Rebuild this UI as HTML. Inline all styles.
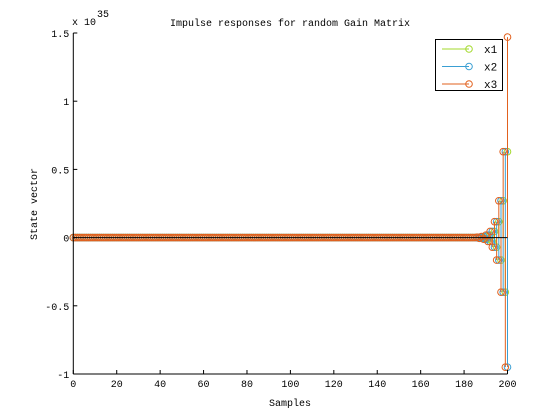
<!DOCTYPE html>
<html><head><meta charset="utf-8"><style>
html,body{margin:0;padding:0;background:#fff}
svg{display:block;font-family:"Liberation Mono",monospace}
</style></head><body>
<svg id="chart" width="560" height="420" viewBox="0 0 560 420" xmlns="http://www.w3.org/2000/svg">
<rect x="0" y="0" width="560" height="420" fill="#fff"/>
<g id="plot"></g>
<g id="axes"></g>
<text x="290" y="26" font-size="10" text-anchor="middle">Impulse responses for random Gain Matrix</text>
<text x="290" y="406" font-size="10" text-anchor="middle">Samples</text>
<text transform="translate(37,204) rotate(-90)" font-size="10" text-anchor="middle">State vector</text>
<text x="72" y="25" font-size="10">x 10</text>
<text x="97" y="17" font-size="10">35</text>
<g id="legend">
<rect x="435.5" y="39.5" width="67" height="51" fill="#fff" stroke="#000" stroke-width="1"/>
</g>
</svg>
<script>
const NS="http://www.w3.org/2000/svg";
const xTicks=[0,20,40,60,80,100,120,140,160,180,200];
const yTicks=[-1,-0.5,0,0.5,1,1.5];
const yTickLabels=["-1","-0.5","0","0.5","1","1.5"];
const seriesNames=["x1","x2","x3"];
const seriesColors=["#a3d92b","#3a9fd3","#e2611e"];
// values in units of 1e35; indices 0..200 (leading samples are zero)
const tailStart=186;
const x3Tail=[0.003,-0.005,0.008,-0.012,0.018,-0.028,0.045,-0.07,0.117,-0.165,0.27,-0.40,0.63,-0.95,1.47];
const x2Tail=[-0.002,0.003,-0.005,0.008,-0.012,0.018,-0.028,0.045,-0.07,0.117,-0.165,0.27,-0.40,0.63,-0.95];
const x1Tail=[0.001,-0.002,0.003,-0.005,0.008,-0.012,0.018,-0.028,0.045,-0.07,0.117,-0.165,0.27,-0.40,0.63];
const nSamples=201;
const L=73.3,R=507.5,T=33,B=374;
function sx(v){return L+(v-0)/(200-0)*(R-L);}
function sy(v){return B-(v-(-1))/(1.5-(-1))*(B-T);}
function el(tag,attrs,parent){const e=document.createElementNS(NS,tag);for(const k in attrs)e.setAttribute(k,attrs[k]);parent.appendChild(e);return e;}
function series(tail){const a=[];for(let i=0;i<nSamples;i++){const j=i-tailStart;a.push(j>=0&&j<tail.length?tail[j]:0);}return a;}
const allSeries=[series(x1Tail),series(x2Tail),series(x3Tail)];
const plot=document.getElementById('plot');
allSeries.forEach((vals,s)=>{
  const g=el('g',{},plot);
  
  
  vals.forEach((v,i)=>{
    const x=sx(i);
    if(Math.abs(sy(v)-sy(0))>0.5){
      const ln=el('line',{x1:x,y1:sy(0),x2:x,y2:sy(v),stroke:seriesColors[s],'stroke-width':1},g);
      
      
    }
    const c=el('circle',{cx:x,cy:sy(v),r:3.3,fill:'none',stroke:seriesColors[s],'stroke-width':1},g);
    
    
  });
});
const base=el('line',{x1:sx(0),x2:sx(200),y1:sy(0),y2:sy(0),stroke:'#000','stroke-width':1},plot);


const axes=document.getElementById('axes');
const xa=el('line',{x1:L,x2:R,y1:B,y2:B,stroke:'#000','stroke-width':1},axes);


const ya=el('line',{x1:L,x2:L,y1:T,y2:B,stroke:'#000','stroke-width':1},axes);


xTicks.forEach(t=>{
  const x=sx(t);
  el('line',{x1:x,x2:x,y1:B,y2:B-4,stroke:'#000'},axes);
  const tx=el('text',{x:x,y:B+13,'font-size':10,'text-anchor':'middle'},axes);
  tx.textContent=t;
  
  
});
yTicks.forEach((t,i)=>{
  const y=sy(t);
  el('line',{x1:L,x2:L+4,y1:y,y2:y,stroke:'#000'},axes);
  const tx=el('text',{x:L-4,y:y+4,'font-size':10,'text-anchor':'end'},axes);
  tx.textContent=yTickLabels[i];
  
  
});
const legend=document.getElementById('legend');
seriesNames.forEach((n,i)=>{
  const y=49+i*17.5;
  const g=el('g',{},legend);
  
  
  el('line',{x1:442,x2:469,y1:y,y2:y,stroke:seriesColors[i]},g);
  el('circle',{cx:469,cy:y,r:3.3,fill:'none',stroke:seriesColors[i]},g);
  const t=el('text',{x:484,y:y+4,'font-size':11},g);
  t.textContent=n;
});
</script>
</body></html>
